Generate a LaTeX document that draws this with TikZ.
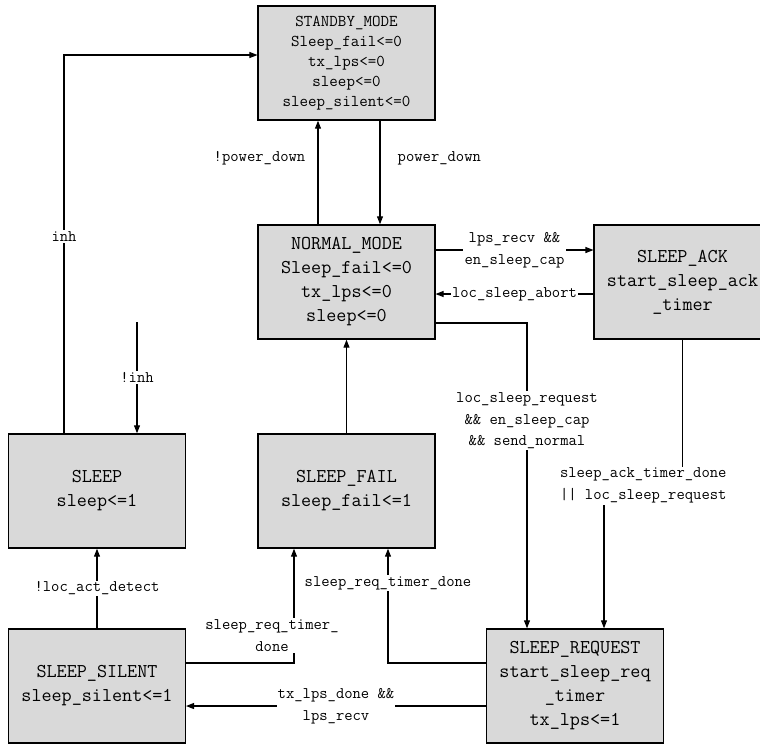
\documentclass[tikz,border=0pt]{standalone}
\usetikzlibrary{arrows.meta,calc}

\begin{document}
\begin{tikzpicture}[
    x=0.3mm, y=-0.3mm,
    >={Triangle[length=2.4mm,width=1.8mm]},
    state/.style={rectangle, draw, line width=1.2pt, fill=gray!30, minimum width=53mm, minimum height=34.2mm, align=center, font=\ttfamily\fontsize{16.7}{20.5}\selectfont},
    trans/.style={->, line width=0.9pt},
    cond/.style={fill=white, inner sep=1pt, align=center, font=\ttfamily\fontsize{13.8}{18.7}\selectfont}
]
\useasboundingbox (0,0) rectangle (760,744);

% ===== STATES =====
\node[state, font=\ttfamily\fontsize{14.1}{17}\selectfont] (standby) at (346.5,63) {STANDBY\_MODE\\Sleep\_fail<=0\\tx\_lps<=0\\sleep<=0\\sleep\_silent<=0};
\node[state] (normal) at (346.5,282) {NORMAL\_MODE\\Sleep\_fail<=0\\tx\_lps<=0\\sleep<=0};
\node[state] (sleepack) at (682.5,282) {SLEEP\_ACK\\start\_sleep\_ack\\\_timer};

\node[state] (sleep) at (97,491) {SLEEP\\sleep<=1};
\node[state] (sleepfail) at (346.5,491) {SLEEP\_FAIL\\sleep\_fail<=1};

\node[state] (sleepsilent) at (97,686) {SLEEP\_SILENT\\sleep\_silent<=1};
\node[state] (sleepreq) at (575,686) {SLEEP\_REQUEST\\start\_sleep\_req\\\_timer\\tx\_lps<=1};

% ===== TRANSITIONS =====
% standby <-> normal
\draw[trans] ($(normal.north)+(-28.5,0)$) -- node[cond, pos=0.64, anchor=east, xshift=-3.3mm] {!power\_down} ($(standby.south)+(-28.5,0)$);
\draw[trans] ($(standby.south)+(33.5,0)$) -- node[cond, pos=0.36, anchor=west, xshift=4.8mm] {power\_down} ($(normal.north)+(33.5,0)$);

% sleep -> standby
\draw[trans] ($(sleep.north)+(-33,0)$) |- node[cond, pos=0.26] {inh} ($(standby.west)+(0,-8)$);

% entry into sleep
\coordinate (inhsrc) at (137,322);
\draw[trans] (inhsrc) -- node[cond] {!inh} ($(sleep.north)+(40,0)$);

% sleep_fail -> normal
\draw[trans] (sleepfail.north) -- (normal.south);

% normal <-> sleep_ack
\draw[trans] ($(normal.east)+(0,-32)$) -- node[cond] {lps\_recv \&\&\\en\_sleep\_cap} ($(sleepack.west)+(0,-32)$);
\draw[trans] ($(sleepack.west)+(0,12)$) -- node[cond, inner sep=0.5pt] {loc\_sleep\_abort} ($(normal.east)+(0,12)$);

% normal -> sleep_request
\draw[trans] ($(normal.east)+(0,41)$) -| node[cond, pos=0.66] {loc\_sleep\_request\\\&\& en\_sleep\_cap\\\&\& send\_normal} ($(sleepreq.north)+(-48,0)$);

% sleep_ack -> sleep_request
\draw[trans] (sleepack.south) -- ++(0,146) -| node[cond, pos=0.25] {sleep\_ack\_timer\_done\\|| loc\_sleep\_request} ($(sleepreq.north)+(29,0)$);

% timer done -> sleep_fail
\draw[trans] ($(sleepreq.west)+(0,-23)$) -| node[cond, pos=0.85] {sleep\_req\_timer\_done} ($(sleepfail.south)+(41.5,0)$);
\draw[trans] ($(sleepsilent.east)+(0,-23)$) -| node[cond, pos=0.62, xshift=-6.6mm] {sleep\_req\_timer\_\\done} ($(sleepfail.south)+(-52.5,0)$);

% sleep_request -> sleep_silent
\draw[trans] ($(sleepreq.west)+(0,20)$) -- node[cond] {tx\_lps\_done \&\&\\lps\_recv} ($(sleepsilent.east)+(0,20)$);

% sleep_silent -> sleep
\draw[trans] (sleepsilent.north) -- node[cond] {!loc\_act\_detect} (sleep.south);

\end{tikzpicture}
\end{document}
